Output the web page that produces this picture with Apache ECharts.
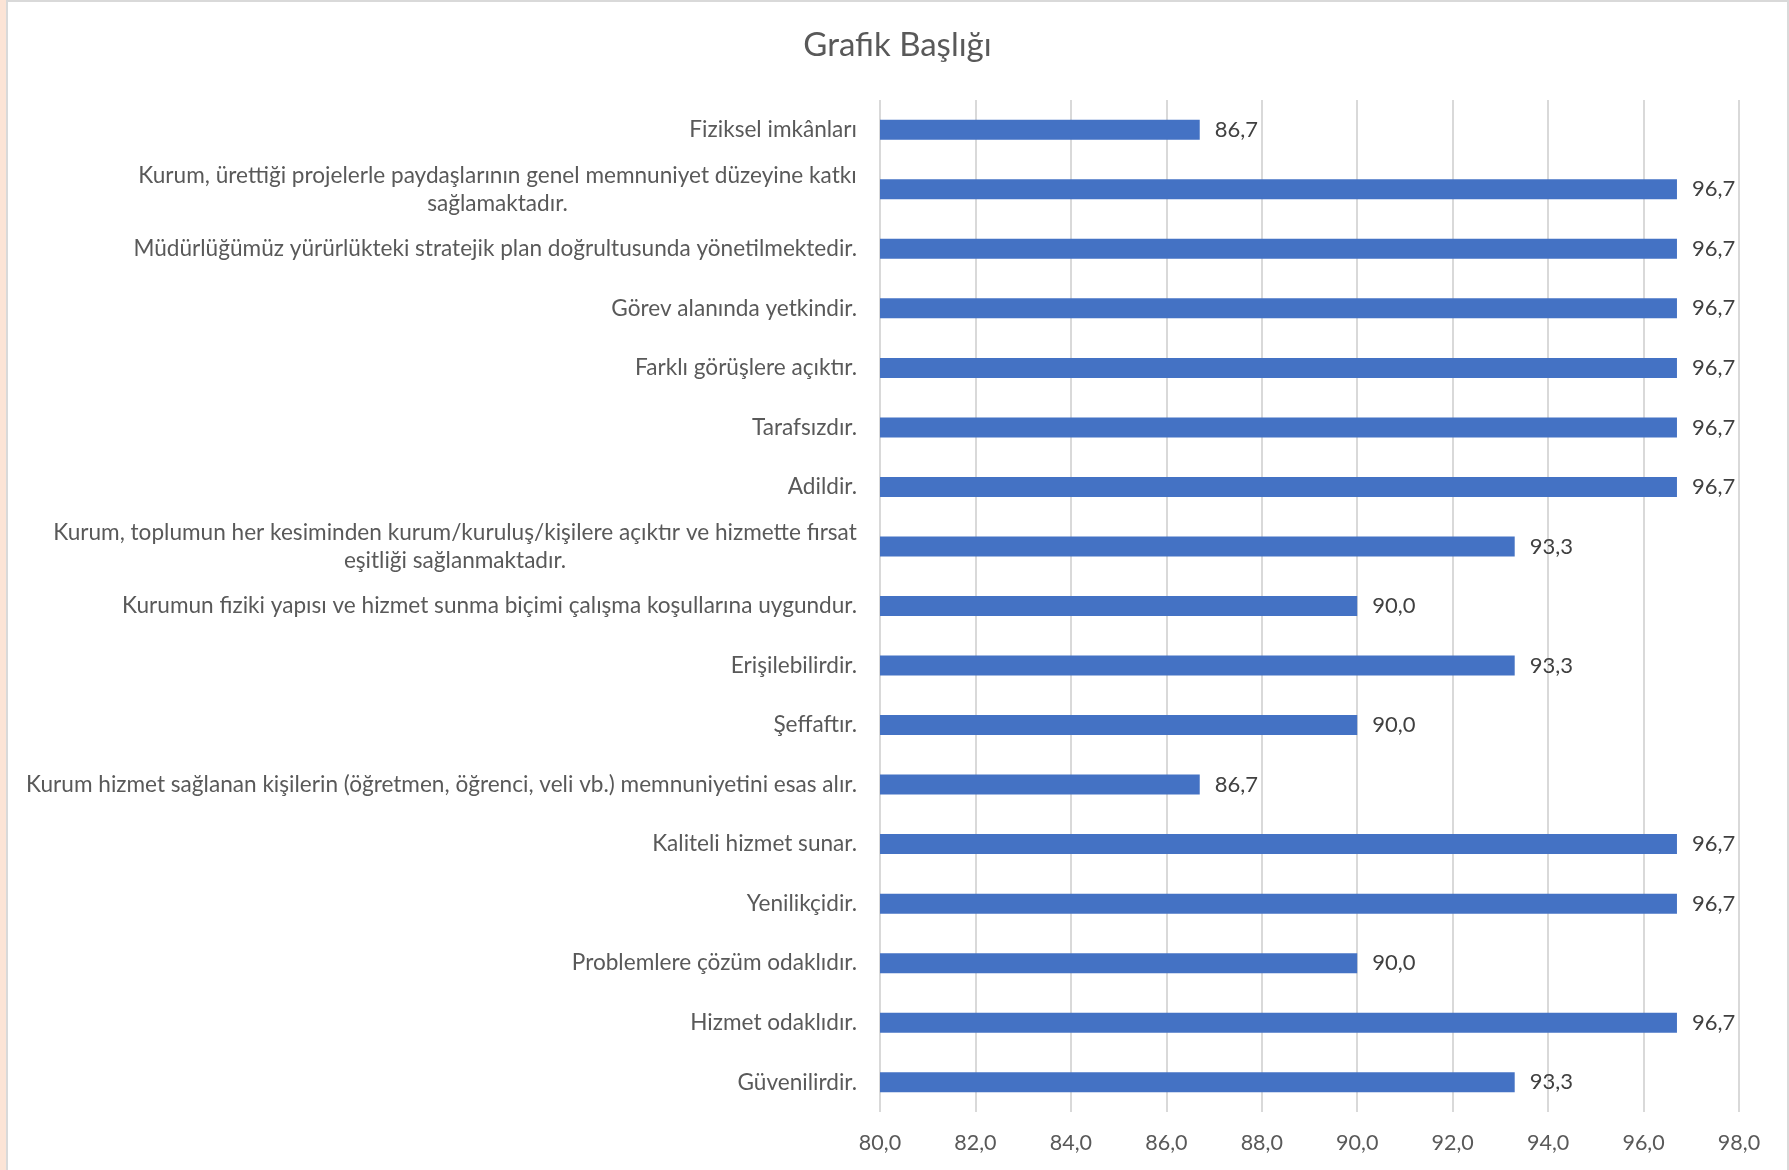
<!DOCTYPE html>
<html>
<head>
<meta charset="utf-8">
<script src="https://cdn.jsdelivr.net/npm/echarts@6/dist/echarts.min.js"></script>
<style>
  html, body { margin: 0; padding: 0; background: #FCE4D6; }
  #wrap { position: absolute; left: 6px; top: 0; width: 1779px; height: 1169px;
          border-left: 2px solid #D9D9D9; border-top: 2px solid #D9D9D9; border-right: 2px solid #D9D9D9;
          background: #ffffff; }
  #chart { width: 1779px; height: 1168px; }
</style>
</head>
<body>
<div id="wrap"><div id="chart"></div></div>
<script>
const titleText = 'Grafik Başlığı';
const categories = [
  'Fiziksel imkânları',
  'Kurum, ürettiği projelerle paydaşlarının genel memnuniyet düzeyine katkı\nsağlamaktadır.',
  'Müdürlüğümüz yürürlükteki stratejik plan doğrultusunda yönetilmektedir.',
  'Görev alanında yetkindir.',
  'Farklı görüşlere açıktır.',
  'Tarafsızdır.',
  'Adildir.',
  'Kurum, toplumun her kesiminden kurum/kuruluş/kişilere açıktır ve hizmette fırsat\neşitliği sağlanmaktadır.',
  'Kurumun fiziki yapısı ve hizmet sunma biçimi çalışma koşullarına uygundur.',
  'Erişilebilirdir.',
  'Şeffaftır.',
  'Kurum hizmet sağlanan kişilerin (öğretmen, öğrenci, veli vb.) memnuniyetini esas alır.',
  'Kaliteli hizmet sunar.',
  'Yenilikçidir.',
  'Problemlere çözüm odaklıdır.',
  'Hizmet odaklıdır.',
  'Güvenilirdir.'
];
const values = [86.7, 96.7, 96.7, 96.7, 96.7, 96.7, 96.7, 93.3, 90.0, 93.3, 90.0, 86.7, 96.7, 96.7, 90.0, 96.7, 93.3];
const xMin = 80, xMax = 98, xStep = 2;

const FONT = 'Lato';
const LABEL_SIZE = 22.6;
const fmt = v => Number(v).toFixed(1).replace('.', ',');

// measure widest line so wrapped labels can be centred like the original
const ctx = document.createElement('canvas').getContext('2d');
ctx.font = LABEL_SIZE + 'px ' + FONT;
const richStyles = {};
const labelFor = {};
categories.forEach((c, i) => {
  if (c.indexOf('\n') >= 0) {
    const lines = c.split('\n');
    const w = Math.ceil(Math.max.apply(null, lines.map(l => ctx.measureText(l).width)));
    const key = 'w' + i;
    richStyles[key] = { width: w, align: 'center', fontFamily: FONT, fontSize: LABEL_SIZE, color: '#595959', lineHeight: 28 };
    labelFor[c] = lines.map(l => '{' + key + '|' + l + '}').join('\n');
  }
});

const chart = echarts.init(document.getElementById('chart'));
chart.setOption({
  backgroundColor: '#ffffff',
  animation: false,
  title: {
    text: titleText,
    left: 'center',
    top: 22,
    textStyle: { fontFamily: FONT, fontSize: 33, fontWeight: 'normal', color: '#595959' }
  },
  grid: { left: 872, right: 48, top: 98, bottom: 58, containLabel: false },
  xAxis: {
    type: 'value',
    min: xMin, max: xMax, interval: xStep,
    axisLine: { show: false },
    axisTick: { show: false },
    splitLine: { show: true, lineStyle: { color: '#D9D9D9', width: 2 } },
    axisLabel: { formatter: fmt, color: '#595959', fontFamily: FONT, fontSize: 21.5, margin: 20 }
  },
  yAxis: {
    type: 'category',
    inverse: true,
    data: categories,
    axisLine: { show: false },
    axisTick: { show: false },
    axisLabel: {
      color: '#595959', fontFamily: FONT, fontSize: LABEL_SIZE, margin: 23, lineHeight: 28,
      formatter: v => labelFor[v] || v,
      rich: richStyles
    }
  },
  series: [{
    type: 'bar',
    data: values,
    barWidth: 20,
    itemStyle: { color: '#4472C4' },
    label: {
      show: true, position: 'right', distance: 15,
      formatter: p => fmt(p.value),
      color: '#404040', fontFamily: FONT, fontSize: 22
    }
  }]
});
</script>
</body>
</html>
